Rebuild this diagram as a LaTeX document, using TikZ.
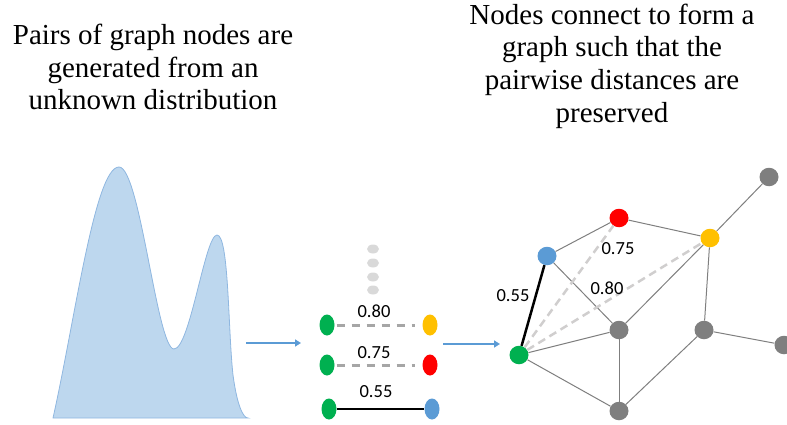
\documentclass[tikz,border=0pt]{standalone}
\usepackage{fontspec}
\setmainfont{Liberation Serif}
\newfontfamily\labelfont{Carlito}
\usetikzlibrary{shapes.geometric,arrows.meta}

\definecolor{ngreen}{HTML}{00B050}
\definecolor{nyellow}{HTML}{FFC000}
\definecolor{nred}{HTML}{FF0000}
\definecolor{nblue}{HTML}{5B9BD5}
\definecolor{ngray}{HTML}{7F7F7F}
\definecolor{dotgray}{HTML}{D9D9D9}
\definecolor{dashgray}{HTML}{A6A6A6}
\definecolor{lightdash}{HTML}{D0CECE}
\definecolor{distfill}{HTML}{BDD7EE}
\definecolor{distline}{HTML}{8FB7E0}

\tikzset{
  title/.style={align=center, font=\fontsize{29}{32.7}\selectfont, inner sep=0pt},
  numlabel/.style={font=\labelfont\fontsize{18.5}{20}\selectfont, inner sep=0pt},
  pairnode/.style={ellipse, minimum width=15pt, minimum height=21pt, inner sep=0pt, draw=none, fill=#1},
  graphnode/.style={ellipse, minimum width=19pt, minimum height=18.5pt, inner sep=0pt, draw=none, fill=#1},
  moredot/.style={ellipse, minimum width=12pt, minimum height=9pt, inner sep=0pt, fill=dotgray},
  pairdash/.style={draw=dashgray, line width=3pt, dash pattern=on 8pt off 7pt},
  pairsolid/.style={draw=black, line width=2.5pt},
  graphedge/.style={draw=ngray, line width=1pt},
  graphdash/.style={draw=lightdash, line width=2.5pt, dash pattern=on 8pt off 5pt},
  flowarrow/.style={draw=nblue, line width=2.5pt, -{Triangle[length=6pt,width=7pt]}},
}

\begin{document}
\begin{tikzpicture}[x=1pt, y=-1pt]
\useasboundingbox (0,0) rectangle (787,425);

% captions
\node[title] (capL) at (153,67) {Pairs of graph nodes are\\generated from an\\unknown distribution};
\node[title] (capR) at (612,66) {Nodes connect to form a\\graph such that the\\pairwise distances are\\preserved};

% bimodal density
\draw[distline, line width=0.8pt, fill=distfill]
  (53,418) .. controls (75,320) and (95,167) .. (119,167)
  .. controls (140,167) and (157,349) .. (174,349)
  .. controls (190,349) and (205,235) .. (217,235)
  .. controls (229,235) and (228,330) .. (233,375)
  .. controls (237,405) and (243,418) .. (248,418) -- cycle;

% sampled pairs
\node[moredot] (d1) at (373,249) {};
\node[moredot] (d2) at (373,263) {};
\node[moredot] (d3) at (373,277) {};
\node[moredot] (d4) at (373,290) {};

\node[pairnode=ngreen]  (p1a) at (327,325) {};
\node[pairnode=nyellow] (p1b) at (430,325) {};
\node[pairnode=ngreen]  (p2a) at (327,365) {};
\node[pairnode=nred]    (p2b) at (430,365) {};
\node[pairnode=ngreen]  (p3a) at (329,409) {};
\node[pairnode=nblue]   (p3b) at (432,409) {};

\draw[pairdash, shorten <=2pt, shorten >=7pt] (p1a) -- (p1b);
\draw[pairdash, shorten <=2pt, shorten >=7pt] (p2a) -- (p2b);
\draw[pairsolid] (p3a) -- (p3b);

\node[numlabel] (l1) at (374,311) {0.80};
\node[numlabel] (l2) at (374,353) {0.75};
\node[numlabel] (l3) at (376,392) {0.55};

% flow arrows
\coordinate (a1s) at (246,343);
\coordinate (a1e) at (301,343);
\coordinate (a2s) at (443,344);
\coordinate (a2e) at (500,344);
\draw[flowarrow] (a1s) -- (a1e);
\draw[flowarrow] (a2s) -- (a2e);

% resulting graph
\node[graphnode=ngray]   (gtr) at (769,177) {};
\node[graphnode=nred]    (gr)  at (619,218) {};
\node[graphnode=nyellow] (gy)  at (710,238) {};
\node[graphnode=nblue]   (gb)  at (547,256) {};
\node[graphnode=ngray]   (gc)  at (619,330) {};
\node[graphnode=ngray]   (grt) at (704,330) {};
\node[graphnode=ngray]   (gfr) at (784,345) {};
\node[graphnode=ngreen]  (gg)  at (519,355) {};
\node[graphnode=ngray]   (gbt) at (619,411) {};

\draw[graphedge] (gtr) -- (gy);
\draw[graphedge] (gr) -- (gy);
\draw[graphedge] (gb) -- (gr);
\draw[graphedge] (gb) -- (gc);
\draw[graphedge] (gg) -- (gc);
\draw[graphedge] (gg) -- (gbt);
\draw[graphedge] (gc) -- (gbt);
\draw[graphedge] (gc) -- (gy);
\draw[graphedge] (gy) -- (grt);
\draw[graphedge] (grt) -- (gbt);
\draw[graphedge] (grt) -- (gfr);

\draw[graphdash] (gg) -- (gr);
\draw[graphdash] (gg) -- (gy);
\draw[draw=black, line width=2.5pt] (gg) -- (gb);

\node[numlabel] (g1) at (618,249) {0.75};
\node[numlabel] (g2) at (607,288) {0.80};
\node[numlabel] (g3) at (513,296) {0.55};
\end{tikzpicture}
\end{document}
